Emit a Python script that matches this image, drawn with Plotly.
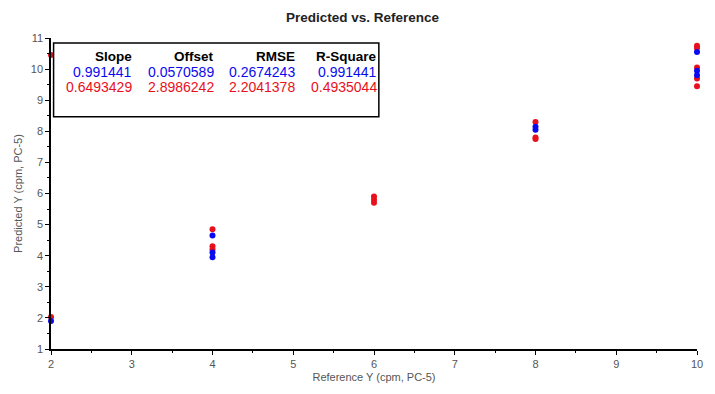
import plotly.graph_objects as go

# Data
blue_x = [2, 4, 4, 4, 8, 8, 10, 10, 10]
blue_y = [1.9, 4.65, 4.1, 3.95, 8.15, 8.05, 10.55, 9.95, 9.8]
red_x = [2, 2, 4, 4, 4, 6, 6, 6, 8, 8, 8, 10, 10, 10, 10, 10]
red_y = [10.45, 2.03, 4.85, 4.3, 4.2, 5.9, 5.8, 5.7, 8.3, 7.8, 7.75, 10.75, 10.68, 10.05, 9.7, 9.45]

headers = ["Slope", "Offset", "RMSE", "R-Square"]
blue_stats = ["0.991441", "0.0570589", "0.2674243", "0.991441"]
red_stats = ["0.6493429", "2.8986242", "2.2041378", "0.4935044"]

x_ticks = [2, 3, 4, 5, 6, 7, 8, 9, 10]
y_ticks = [1, 2, 3, 4, 5, 6, 7, 8, 9, 10, 11]

BLUE = "#0a0af0"
RED = "#e8101c"
FONT = "Liberation Sans, Arial, sans-serif"

fig = go.Figure()
fig.add_trace(go.Scatter(x=red_x, y=red_y, mode="markers",
                         marker=dict(color=RED, size=6), cliponaxis=False, showlegend=False))
fig.add_trace(go.Scatter(x=blue_x, y=blue_y, mode="markers",
                         marker=dict(color=BLUE, size=6), cliponaxis=False, showlegend=False))

axis_common = dict(showline=True, linecolor="black", linewidth=1.5, showgrid=False,
                   zeroline=False, ticks="outside", ticklen=4, tickcolor="black",
                   tickfont=dict(family=FONT, size=11, color="#555555"))

fig.update_xaxes(range=[2, 10], tickvals=x_ticks,
                 minor=dict(dtick=0.5, ticks="outside", ticklen=2, tickcolor="black"),
                 title=dict(text="Reference Y (cpm, PC-5)", font=dict(family=FONT, size=11, color="#555555"),
                            standoff=4),
                 **axis_common)
fig.update_yaxes(range=[1, 11], tickvals=y_ticks,
                 minor=dict(dtick=0.5, ticks="outside", ticklen=2, tickcolor="black"),
                 title=dict(text="Predicted Y (cpm, PC-5)", font=dict(family=FONT, size=11, color="#555555"),
                            standoff=6),
                 **axis_common)

# Stats box
fig.add_shape(type="rect", xref="paper", yref="paper", x0=0.004, x1=0.5075, y0=0.747, y1=0.984,
              line=dict(color="black", width=1.5), fillcolor="white", layer="above")

col_x = [0.128, 0.2555, 0.381, 0.5075]
row_y = [0.940, 0.891, 0.844]
rows = [(headers, "black", True), (blue_stats, BLUE, False), (red_stats, RED, False)]
for ri, (vals, col, bold) in enumerate(rows):
    for ci, v in enumerate(vals):
        fig.add_annotation(xref="paper", yref="paper", x=col_x[ci], y=row_y[ri],
                           text=f"<b>{v}</b>" if bold else v, showarrow=False,
                           xanchor="right", yanchor="middle",
                           font=dict(family=FONT, size=14 if not bold else 13.5, color=col))

fig.update_layout(
    width=715, height=394,
    margin=dict(l=51, r=12, t=38, b=44),
    paper_bgcolor="white", plot_bgcolor="white",
    title=dict(text="<b>Predicted vs. Reference</b>", x=0.507, xanchor="center", y=0.955, yanchor="middle",
               font=dict(family="Liberation Sans Narrow, Arial Narrow, " + FONT, size=13.5, color="#222222")),
)

fig.write_html("out.html")
